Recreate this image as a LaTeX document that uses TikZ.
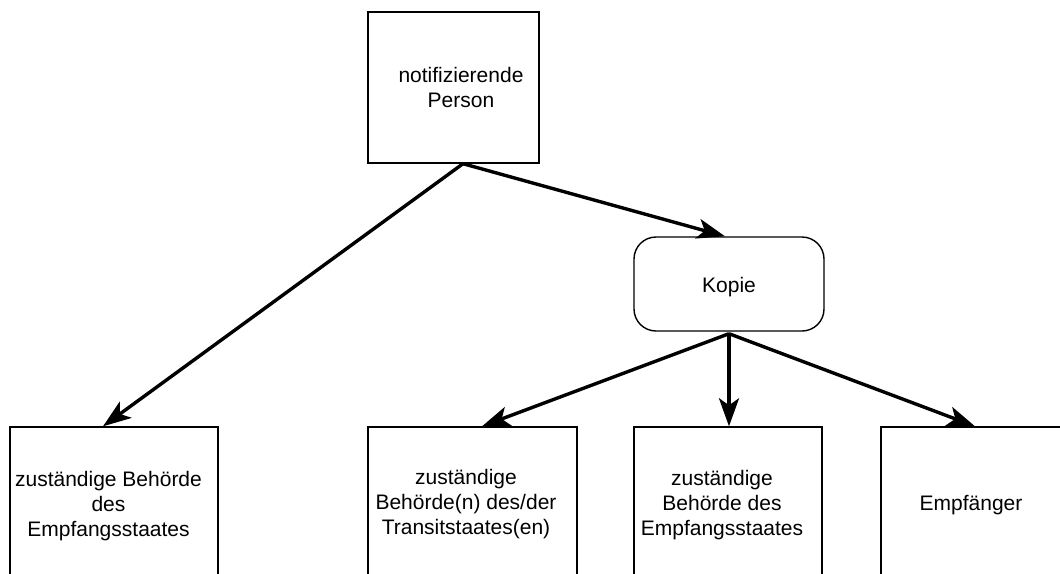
\documentclass[tikz,border=0pt]{standalone}
\usepackage{fontspec}
\setmainfont{Liberation Sans}
\usetikzlibrary{arrows.meta}
\begin{document}
\begin{tikzpicture}[x=1pt,y=-1pt,
  box/.style={draw=black, line width=1.4pt, rectangle, inner sep=0pt},
  txt/.style={align=center, inner sep=0pt, font=\fontsize{21}{25}\selectfont},
  conn/.style={line width=3.4pt, -{Stealth[length=28pt,width=20pt,inset=7pt]}}]
\useasboundingbox (0,0) rectangle (1060,573);
\clip (0,0) rectangle (1060,573);
\fill[white] (0,0) rectangle (1060,573);
\node[box, minimum width=171pt, minimum height=151pt] (top) at (453.5,87.5) {};
\node[box, rounded corners=22pt, minimum width=190pt, minimum height=94pt] (kopie) at (729,284) {};
\node[box, minimum width=208pt, minimum height=152pt] (b1) at (114,503) {};
\node[box, minimum width=209pt, minimum height=152pt] (b2) at (472.5,503) {};
\node[box, minimum width=188pt, minimum height=152pt] (b3) at (728,503) {};
\node[box, minimum width=182pt, minimum height=152pt] (b4) at (972,503) {};
\node[txt] (ttop) at (461,87) {notifizierende\\Person};
\node[txt] (tkopie) at (729,287) {Kopie};
\node[txt] (t1) at (108.5,506) {zuständige Behörde\\des\\Empfangsstaates};
\node[txt] (t2) at (466,504.5) {zuständige\\Behörde(n) des/der\\Transitstaates(en)};
\node[txt] (t3) at (722,505) {zuständige\\Behörde des\\Empfangsstaates};
\node[txt] (t4) at (971,505) {Empfänger};
\coordinate (tapex) at ([xshift=9.5pt]top.south);
\coordinate (kapex) at ([yshift=-2pt]kopie.south);
\draw[conn] (tapex) -- ([xshift=-11pt]b1.north);
\draw[conn] (tapex) -- ([xshift=-4pt]kopie.north);
\draw[conn] (kapex) -- ([xshift=9.5pt]b2.north);
\draw[conn] (kapex) -- ([xshift=1pt]b3.north);
\draw[conn] (kapex) -- ([xshift=3pt]b4.north);
\end{tikzpicture}
\end{document}
